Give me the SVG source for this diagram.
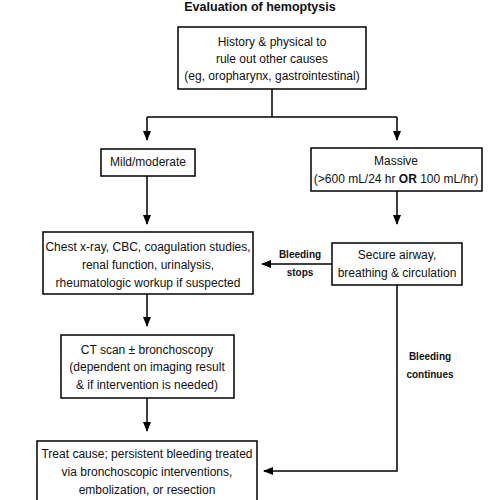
<svg xmlns="http://www.w3.org/2000/svg" width="500" height="500" viewBox="0 0 500 500">
<defs>
<marker id="ah" markerWidth="10" markerHeight="8" refX="9" refY="4" orient="auto" markerUnits="userSpaceOnUse">
<path d="M0,0 L10,4 L0,8 Z" fill="#000"/>
</marker>
<style>
.box{fill:#fff;stroke:#000;stroke-width:1.5}
.t{font-family:"Liberation Sans",Arial,sans-serif;font-size:12px;text-anchor:middle;fill:#111}
.b{font-family:"Liberation Sans",Arial,sans-serif;font-size:10px;font-weight:bold;text-anchor:middle;fill:#111}
.c{fill:none;stroke:#000;stroke-width:1.5}
</style>
</defs>
<rect width="500" height="500" fill="#fff"/>
<text x="260" y="11" font-family="Liberation Sans,Arial,sans-serif" font-size="12.5" font-weight="bold" text-anchor="middle" fill="#111">Evaluation of hemoptysis</text>
<g id="connectors">
<path class="c" d="M272,89 V117"/>
<path class="c" d="M147,117 H397"/>
<path class="c" d="M147,117 V140" marker-end="url(#ah)"/>
<path class="c" d="M397,117 V140" marker-end="url(#ah)"/>
<path class="c" d="M147,176 V224" marker-end="url(#ah)"/>
<path class="c" d="M397,191 V224" marker-end="url(#ah)"/>
<path class="c" d="M332,264 H262" marker-end="url(#ah)"/>
<path class="c" d="M147,294 V326" marker-end="url(#ah)"/>
<path class="c" d="M147,398 V431" marker-end="url(#ah)"/>
<path class="c" d="M397,285 V471 H264" marker-end="url(#ah)"/>
<text class="b" x="300" y="258">Bleeding</text>
<text class="b" x="300" y="276">stops</text>
<text class="b" x="430" y="360">Bleeding</text>
<text class="b" x="430" y="378">continues</text>
</g>
<g id="history">
<rect class="box" x="178" y="27" width="188" height="62"/>
<text class="t" x="272" y="46">History &amp; physical to</text>
<text class="t" x="272" y="63">rule out other causes</text>
<text class="t" x="272" y="80">(eg, oropharynx, gastrointestinal)</text>
</g>
<g id="mild">
<rect class="box" x="101" y="149" width="94" height="27"/>
<text class="t" x="148" y="166">Mild/moderate</text>
</g>
<g id="massive">
<rect class="box" x="311" y="148" width="171" height="43"/>
<text class="t" x="396" y="165">Massive</text>
<text class="t" x="396" y="183">(&gt;600 mL/24 hr <tspan font-weight="bold">OR</tspan> 100 mL/hr)</text>
</g>
<g id="chest">
<rect class="box" x="43" y="232" width="210" height="62"/>
<text class="t" x="148" y="251">Chest x-ray, CBC, coagulation studies,</text>
<text class="t" x="148" y="269">renal function, urinalysis,</text>
<text class="t" x="148" y="287">rheumatologic workup if suspected</text>
</g>
<g id="secure">
<rect class="box" x="332" y="243" width="130" height="42"/>
<text class="t" x="397" y="259">Secure airway,</text>
<text class="t" x="397" y="277">breathing &amp; circulation</text>
</g>
<g id="ct">
<rect class="box" x="61" y="335" width="173" height="63"/>
<text class="t" x="147" y="354">CT scan ± bronchoscopy</text>
<text class="t" x="147" y="371">(dependent on imaging result</text>
<text class="t" x="147" y="389">&amp; if intervention is needed)</text>
</g>
<g id="treat">
<rect class="box" x="37" y="441" width="220" height="65"/>
<text class="t" x="147" y="458">Treat cause; persistent bleeding treated</text>
<text class="t" x="147" y="476">via bronchoscopic interventions,</text>
<text class="t" x="147" y="494">embolization, or resection</text>
</g>
</svg>
